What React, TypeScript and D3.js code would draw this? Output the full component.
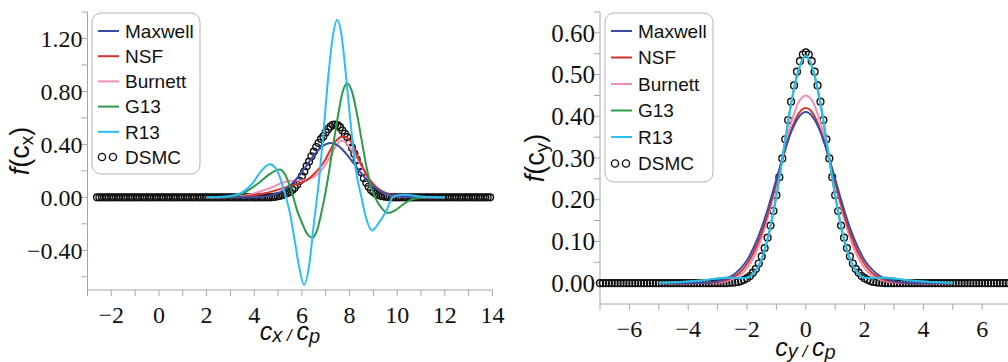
import React from 'react';
import * as d3 from 'd3';

type Pt = [number, number];

const legendNames = ['Maxwell', 'NSF', 'Burnett', 'G13', 'R13', 'DSMC'];
const lineColors: Record<string, string> = {
  Maxwell: '#3a4ea6',
  NSF: '#d8342c',
  Burnett: '#f08fb6',
  G13: '#2c9a48',
  R13: '#2ebdf0',
};

// ---------- left panel: f(cx) ----------
const leftYTicks = [-0.4, 0, 0.4, 0.8, 1.2];
const leftYMinor = [-0.6, -0.2, 0.2, 0.6, 1.0, 1.4];
const leftXTicks = [-2, 0, 2, 4, 6, 8, 10, 12, 14];
const leftXMinor = [-3, -1, 1, 3, 5, 7, 9, 11, 13];

const maxwellCx: Pt[] = [
  [2.0, 0], [3.2, 0], [3.7, 0.0006], [4.2, 0.0034], [4.7, 0.015], [5.2, 0.049], [5.45, 0.081],
  [5.7, 0.124], [5.95, 0.179], [6.2, 0.241], [6.45, 0.304], [6.7, 0.359], [6.95, 0.397],
  [7.2, 0.41], [7.45, 0.398], [7.7, 0.362], [7.95, 0.31], [8.2, 0.25], [8.45, 0.19],
  [8.7, 0.135], [8.95, 0.09], [9.2, 0.056], [9.45, 0.032], [9.7, 0.017], [10.2, 0.005],
  [10.7, 0.001], [11.5, 0], [12.0, 0],
];
const nsfCx: Pt[] = [
  [2.0, 0], [3.0, 0.002], [3.5, 0.005], [4.0, 0.015], [4.5, 0.033], [5.0, 0.058], [5.5, 0.085],
  [5.9, 0.105], [6.2, 0.13], [6.5, 0.175], [6.8, 0.235], [7.0, 0.29], [7.2, 0.36], [7.4, 0.42],
  [7.6, 0.452], [7.75, 0.46], [7.9, 0.45], [8.1, 0.405], [8.3, 0.325], [8.5, 0.245],
  [8.7, 0.175], [9.0, 0.1], [9.3, 0.052], [9.55, 0.03], [10.0, 0.012], [10.5, 0.004],
  [11.0, 0.001], [12.0, 0],
];
const burnettCx: Pt[] = [
  [2.0, 0], [3.0, 0.003], [3.5, 0.01], [4.0, 0.03], [4.5, 0.06], [4.8, 0.08], [5.1, 0.105],
  [5.35, 0.12], [5.6, 0.125], [5.9, 0.127], [6.2, 0.133], [6.5, 0.155], [6.8, 0.2], [7.0, 0.25],
  [7.2, 0.31], [7.4, 0.38], [7.55, 0.418], [7.66, 0.43], [7.8, 0.42], [8.0, 0.38], [8.3, 0.3],
  [8.5, 0.235], [8.7, 0.165], [9.0, 0.09], [9.3, 0.045], [9.6, 0.02], [10.0, 0.008],
  [10.5, 0.003], [11.0, 0.001], [12.0, 0],
];
const g13Cx: Pt[] = [
  [2.0, 0], [3.0, 0.005], [3.4, 0.02], [3.8, 0.06], [4.2, 0.11], [4.6, 0.17], [5.07, 0.21],
  [5.3, 0.17], [5.5, 0.08], [5.64, 0], [5.8, -0.1], [6.0, -0.19], [6.2, -0.27], [6.44, -0.305],
  [6.65, -0.24], [6.8, -0.13], [6.95, 0], [7.1, 0.15], [7.3, 0.38], [7.5, 0.6], [7.7, 0.79],
  [7.9, 0.86], [8.1, 0.8], [8.3, 0.64], [8.5, 0.44], [8.7, 0.24], [8.9, 0.08], [9.07, 0],
  [9.3, -0.07], [9.62, -0.118], [9.9, -0.1], [10.2, -0.06], [10.5, -0.025], [10.8, -0.008],
  [11.2, 0], [12.0, 0],
];
const r13Cx: Pt[] = [
  [2.0, 0], [2.5, 0.002], [3.0, 0.01], [3.5, 0.04], [3.9, 0.1], [4.3, 0.2], [4.65, 0.25],
  [4.9, 0.22], [5.1, 0.14], [5.3, 0.02], [5.5, -0.12], [5.7, -0.33], [5.9, -0.54], [6.09, -0.66],
  [6.3, -0.52], [6.5, -0.2], [6.7, 0.1], [6.9, 0.48], [7.1, 0.9], [7.3, 1.22], [7.48, 1.34],
  [7.65, 1.24], [7.85, 0.92], [8.05, 0.55], [8.25, 0.22], [8.5, 0], [8.7, -0.16], [8.95, -0.25],
  [9.2, -0.2], [9.55, -0.1], [9.8, 0], [10.1, 0.018], [10.4, 0.02], [10.8, 0.01], [11.3, 0.002],
  [12.0, 0],
];
// DSMC samples on cx = -2.6, -2.5, ... 13.9
const dsmcCxStart = -2.6;
const dsmcStep = 0.1;
const dsmcCx = [
  0, 0, 0, 0, 0, 0, 0, 0, 0, 0,
  0, 0, 0, 0, 0, 0, 0, 0, 0, 0,
  0, 0, 0, 0, 0, 0, 0, 0, 0, 0,
  0, 0, 0, 0, 0, 0, 0, 0, 0, 0,
  0, 0, 0, 0, 0, 0, 0, 0, 0, 0,
  0, 0, 0, 0, 0, 0, 0, 0, 0, 0,
  0, 0, 0, 0, 0, 0, 0, 0, 0, 0,
  0, 0, 0, 0,
  0.003, 0.005, 0.008, 0.012, 0.018, 0.025, 0.033, 0.042, 0.055, 0.073,
  0.095, 0.125, 0.16, 0.195, 0.235, 0.27, 0.31, 0.345, 0.38, 0.41,
  0.44, 0.46, 0.49, 0.515, 0.535, 0.548, 0.55, 0.545, 0.53, 0.505,
  0.48, 0.455, 0.415, 0.375, 0.33, 0.285, 0.235, 0.19, 0.145, 0.11,
  0.08, 0.055, 0.04, 0.028, 0.018, 0.012, 0.008, 0.005, 0.003, 0.002,
  0, 0, 0, 0, 0, 0, 0, 0, 0, 0,
  0, 0, 0, 0, 0, 0, 0, 0, 0, 0,
  0, 0, 0, 0, 0, 0, 0, 0, 0, 0,
  0, 0, 0, 0, 0, 0, 0, 0, 0, 0,
  0, 0,
];

// ---------- right panel: f(cy) ----------
const rightYTicks = [0, 0.1, 0.2, 0.3, 0.4, 0.5, 0.6];
const rightYMinor = [0.05, 0.15, 0.25, 0.35, 0.45, 0.55, 0.65];
const rightXTicks = [-6, -4, -2, 0, 2, 4, 6];
const rightXMinor = [-7, -5, -3, -1, 1, 3, 5, 7];

const maxwellCy: Pt[] = [
  [-5, 0], [-4.5, 0], [-4, 0.0001], [-3.5, 0.0009], [-3, 0.0046], [-2.75, 0.0094], [-2.5, 0.018],
  [-2.25, 0.033], [-2, 0.055], [-1.75, 0.089], [-1.5, 0.133], [-1.25, 0.188], [-1, 0.249],
  [-0.75, 0.31], [-0.5, 0.362], [-0.25, 0.397], [0, 0.41], [0.25, 0.397], [0.5, 0.362],
  [0.75, 0.31], [1, 0.249], [1.25, 0.188], [1.5, 0.133], [1.75, 0.089], [2, 0.055],
  [2.25, 0.033], [2.5, 0.018], [2.75, 0.0094], [3, 0.0046], [3.5, 0.0009], [4, 0.0001],
  [4.5, 0], [5, 0],
];
const nsfCy: Pt[] = [
  [-5, 0], [-4, 0], [-3.5, 0.0005], [-3, 0.003], [-2.75, 0.006], [-2.5, 0.013], [-2.25, 0.025],
  [-2, 0.046], [-1.75, 0.077], [-1.5, 0.121], [-1.25, 0.177], [-1, 0.241], [-0.75, 0.308],
  [-0.5, 0.366], [-0.25, 0.406], [0, 0.42], [0.25, 0.406], [0.5, 0.366], [0.75, 0.308],
  [1, 0.241], [1.25, 0.177], [1.5, 0.121], [1.75, 0.077], [2, 0.046], [2.25, 0.025],
  [2.5, 0.013], [2.75, 0.006], [3, 0.003], [3.5, 0.0005], [4, 0], [5, 0],
];
const burnettCy: Pt[] = [
  [-5, 0], [-4, 0], [-3.5, 0.0002], [-3, 0.0015], [-2.75, 0.004], [-2.5, 0.009], [-2.25, 0.018],
  [-2, 0.036], [-1.75, 0.065], [-1.5, 0.109], [-1.25, 0.168], [-1, 0.239], [-0.75, 0.316],
  [-0.5, 0.384], [-0.25, 0.433], [0, 0.45], [0.25, 0.433], [0.5, 0.384], [0.75, 0.316],
  [1, 0.239], [1.25, 0.168], [1.5, 0.109], [1.75, 0.065], [2, 0.036], [2.25, 0.018],
  [2.5, 0.009], [2.75, 0.004], [3, 0.0015], [3.5, 0.0002], [4, 0], [5, 0],
];
const r13Cy: Pt[] = [
  [-5, 0.001], [-4.5, 0.002], [-4, 0.004], [-3.5, 0.007], [-3, 0.011], [-2.75, 0.013],
  [-2.5, 0.013], [-2.25, 0.012], [-2, 0.013], [-1.75, 0.025], [-1.5, 0.058], [-1.25, 0.12],
  [-1, 0.21], [-0.75, 0.32], [-0.5, 0.43], [-0.25, 0.51], [0, 0.545], [0.25, 0.51], [0.5, 0.43],
  [0.75, 0.32], [1, 0.21], [1.25, 0.12], [1.5, 0.058], [1.75, 0.025], [2, 0.013], [2.25, 0.012],
  [2.5, 0.013], [2.75, 0.013], [3, 0.011], [3.5, 0.007], [4, 0.004], [4.5, 0.002], [5, 0.001],
];
// G13 lies under R13 in this panel
const g13Cy: Pt[] = r13Cy.map(d => [d[0], d[1]] as Pt);
// DSMC samples on cy = -7.0, -6.9, ... 7.0
const dsmcCyStart = -7;
const dsmcCy = [
  0, 0, 0, 0, 0, 0, 0, 0, 0, 0,
  0, 0, 0, 0, 0, 0, 0, 0, 0, 0,
  0, 0, 0, 0, 0, 0, 0, 0, 0, 0,
  0, 0, 0, 0, 0, 0, 0, 0, 0, 0,
  0, 0, 0, 0,
  0.001, 0.001, 0.002, 0.003, 0.005, 0.008, 0.012, 0.017, 0.025, 0.034,
  0.047, 0.064, 0.084, 0.109, 0.138, 0.173, 0.211, 0.254, 0.299, 0.345,
  0.391, 0.435, 0.474, 0.507, 0.532, 0.548, 0.553, 0.548, 0.532, 0.507,
  0.474, 0.435, 0.391, 0.345, 0.299, 0.254, 0.211, 0.173, 0.138, 0.109,
  0.084, 0.064, 0.047, 0.034, 0.025, 0.017, 0.012, 0.008, 0.005, 0.003,
  0.002, 0.001, 0.001,
  0, 0, 0, 0, 0, 0, 0, 0, 0, 0,
  0, 0, 0, 0, 0, 0, 0, 0, 0, 0,
  0, 0, 0, 0, 0, 0, 0, 0, 0, 0,
  0, 0, 0, 0, 0, 0, 0, 0, 0, 0,
  0, 0, 0, 0,
];

const serif = '"Liberation Serif", "Times New Roman", serif';
const sans = '"Liberation Sans", Arial, sans-serif';
const axisGray = '#a6a6a6';

interface PanelProps {
  xDomain: [number, number];
  xRange: [number, number];
  yDomain: [number, number];
  yRange: [number, number];
  xTicks: number[];
  xMinor: number[];
  yTicks: number[];
  yMinor: number[];
  series: Record<string, Pt[]>;
  dsmc: number[];
  dsmcStart: number;
  legend: { x: number; y: number; w: number; h: number; gap: number };
  yTickSize: number;
  yLabelX: number;
  xLabelY: number;
  sub: string;
}

const Panel: React.FC<PanelProps> = p => {
  const x = d3.scaleLinear().domain(p.xDomain).range(p.xRange);
  const y = d3.scaleLinear().domain(p.yDomain).range(p.yRange);
  const line = d3.line<Pt>().x(d => x(d[0])).y(d => y(d[1])).curve(d3.curveMonotoneX);
  const fmtY = d3.format('.2f');
  const fmtX = d3.format('d');
  const x0 = p.xRange[0];
  const yb = p.yRange[0];
  const drawOrder = ['Burnett', 'NSF', 'Maxwell', 'G13', 'R13'];
  const lg = p.legend;

  return (
    <g>
      {/* axes */}
      <line x1={x0} x2={x0} y1={p.yRange[1]} y2={yb} stroke={axisGray} />
      <line x1={x0} x2={p.xRange[1]} y1={yb} y2={yb} stroke={axisGray} />
      {[...p.yTicks, ...p.yMinor].map(t => (
        <line key={'yt' + t} x1={x0 - 6} x2={x0} y1={y(t)} y2={y(t)} stroke={axisGray} />
      ))}
      {[...p.xTicks, ...p.xMinor].map(t => (
        <line key={'xt' + t} x1={x(t)} x2={x(t)} y1={yb} y2={yb + 6} stroke={axisGray} />
      ))}
      {p.yTicks.map(t => (
        <text key={'yl' + t} x={x0 - 5} y={y(t)} dy="0.35em" textAnchor="end"
          fontFamily={serif} fontSize={p.yTickSize} fill="#111">{fmtY(t)}</text>
      ))}
      {p.xTicks.map(t => (
        <text key={'xl' + t} x={x(t)} y={yb + 33} textAnchor="middle"
          fontFamily={serif} fontSize={24} fill="#111">{fmtX(t)}</text>
      ))}

      {/* axis titles */}
      <text transform={`translate(${p.yLabelX},${(p.yRange[0] + p.yRange[1]) / 2}) rotate(-90)`}
        textAnchor="middle" fontFamily={sans} fontSize={27} fill="#111">
        <tspan fontStyle="italic">f</tspan>
        <tspan>(c</tspan>
        <tspan fontSize={19} dy={4}>{p.sub}</tspan>
        <tspan dy={-4}>)</tspan>
      </text>
      <text x={(p.xRange[0] + Math.min(p.xRange[1], 1008 + 3)) / 2 + (p.sub === 'y' ? 0 : 0)}
        y={p.xLabelY} textAnchor="middle" fontFamily={sans} fontStyle="italic" fontSize={25} fill="#111">
        <tspan>c</tspan>
        <tspan fontSize={20} dy={2}>{p.sub}</tspan>
        <tspan fontSize={17} dy={-1}> / </tspan>
        <tspan fontSize={25} dy={-1}>c</tspan>
        <tspan fontSize={20} dy={3}>p</tspan>
      </text>

      {/* DSMC markers */}
      {p.dsmc.map((v, i) => (
        <circle key={'d' + i} cx={x(p.dsmcStart + i * dsmcStep)} cy={y(v)} r={3.4}
          fill="none" stroke="#111" strokeWidth={1.4} />
      ))}

      {/* model curves */}
      {drawOrder.map(name => (
        <path key={name} d={line(p.series[name]) || ''} fill="none"
          stroke={lineColors[name]} strokeWidth={2} />
      ))}

      {/* legend */}
      <rect x={lg.x} y={lg.y} width={lg.w} height={lg.h} rx={9} fill="#fff" stroke="#b5b5b5" />
      {legendNames.map((name, i) => {
        const cy = lg.y + 18 + i * lg.gap;
        return (
          <g key={'lg' + name}>
            {name === 'DSMC' ? (
              <>
                <circle cx={lg.x + 10} cy={cy} r={3.6} fill="none" stroke="#111" strokeWidth={1.4} />
                <circle cx={lg.x + 21} cy={cy} r={3.6} fill="none" stroke="#111" strokeWidth={1.4} />
              </>
            ) : (
              <line x1={lg.x + 6} x2={lg.x + 27} y1={cy} y2={cy} stroke={lineColors[name]} strokeWidth={2} />
            )}
            <text x={lg.x + 33} y={cy} dy="0.36em" fontFamily={sans} fontSize={19} fill="#111">{name}</text>
          </g>
        );
      })}
    </g>
  );
};

export default function App() {
  return (
    <svg width={1008} height={362} style={{ position: 'absolute', left: 0, top: 0, background: '#fff' }}>
      <Panel
        xDomain={[-3, 14]} xRange={[87.5, 492.5]}
        yDomain={[-0.7, 1.4]} yRange={[290, 12]}
        xTicks={leftXTicks} xMinor={leftXMinor} yTicks={leftYTicks} yMinor={leftYMinor}
        series={{ Maxwell: maxwellCx, NSF: nsfCx, Burnett: burnettCx, G13: g13Cx, R13: r13Cx }}
        dsmc={dsmcCx} dsmcStart={dsmcCxStart}
        legend={{ x: 92, y: 13, w: 108, h: 161, gap: 25.2 }}
        yTickSize={24} yLabelX={29} xLabelY={340} sub="x"
      />
      <Panel
        xDomain={[-7, 7]} xRange={[600, 1011.6]}
        yDomain={[-0.05, 0.65]} yRange={[304, 12]}
        xTicks={rightXTicks} xMinor={rightXMinor} yTicks={rightYTicks} yMinor={rightYMinor}
        series={{ Maxwell: maxwellCy, NSF: nsfCy, Burnett: burnettCy, G13: g13Cy, R13: r13Cy }}
        dsmc={dsmcCy} dsmcStart={dsmcCyStart}
        legend={{ x: 605, y: 13, w: 108, h: 169, gap: 26.5 }}
        yTickSize={25} yLabelX={544} xLabelY={356} sub="y"
      />
    </svg>
  );
}
